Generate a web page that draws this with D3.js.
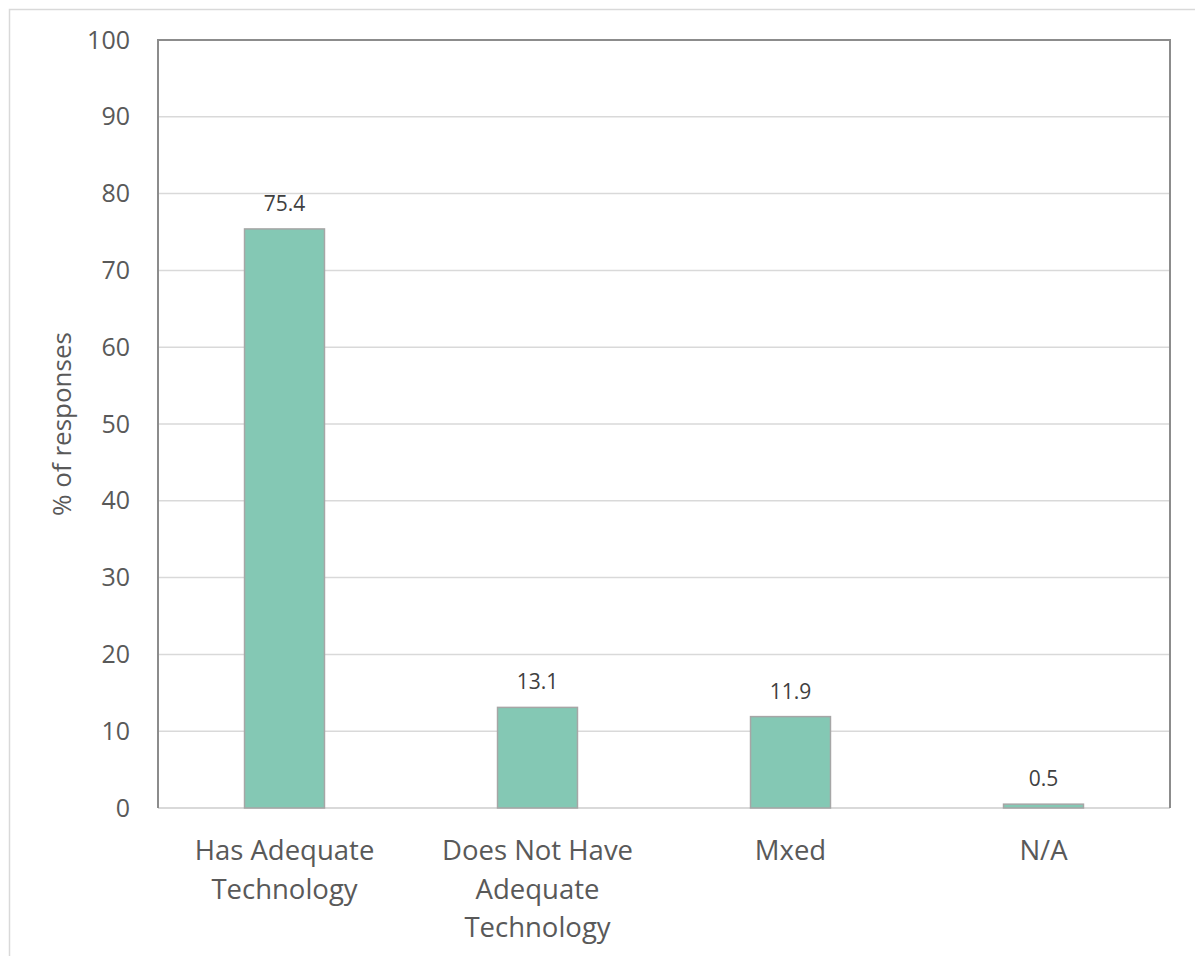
<!DOCTYPE html>
<html>
<head>
<meta charset="utf-8">
<script src="https://cdn.jsdelivr.net/npm/d3@7"></script>
<style>
  html, body { margin: 0; padding: 0; background: #fff; }
  svg { display: block; }
  text { font-family: "Open Sans", "Noto Sans", sans-serif; }
</style>
</head>
<body>
<svg id="chart" width="1195" height="956"></svg>
<script>
// Survey responses: access to adequate technology
const categories = [
  ["Has Adequate", "Technology"],
  ["Does Not Have", "Adequate", "Technology"],
  ["Mxed"],
  ["N/A"]
];
const values = [75.4, 13.1, 11.9, 0.5];
const yTicks = [0, 10, 20, 30, 40, 50, 60, 70, 80, 90, 100];
const yTitle = "% of responses";

const svg = d3.select("#chart");
const W = 1195, H = 956;
const plot = { left: 158, right: 1170, top: 40, bottom: 808 };

// chart frame
svg.append("rect")
  .attr("x", 9.5).attr("y", 9.5)
  .attr("width", W).attr("height", H)
  .attr("fill", "#fff").attr("stroke", "#d9d9d9").attr("stroke-width", 1.5);

const keys = categories.map((c, i) => i);
const x = d3.scaleBand().domain(keys)
  .range([plot.left, plot.right])
  .paddingInner(0.684).paddingOuter(0.342);
const y = d3.scaleLinear().domain([0, 100]).range([plot.bottom, plot.top]);

// gridlines
svg.append("g")
  .selectAll("line")
  .data(yTicks.filter(t => t > 0 && t < 100))
  .join("line")
  .attr("x1", plot.left).attr("x2", plot.right)
  .attr("y1", d => y(d)).attr("y2", d => y(d))
  .attr("stroke", "#d9d9d9").attr("stroke-width", 1.5);

// bottom axis line
svg.append("line")
  .attr("x1", plot.left).attr("x2", plot.right)
  .attr("y1", y(0)).attr("y2", y(0))
  .attr("stroke", "#d9d9d9").attr("stroke-width", 2);

// plot border: top, left, right
svg.append("path")
  .attr("d", `M${plot.left},${plot.bottom} V${plot.top} H${plot.right} V${plot.bottom}`)
  .attr("fill", "none").attr("stroke", "#8c8c8c").attr("stroke-width", 2);

// y axis tick labels
const yAxis = d3.axisLeft(y).tickValues(yTicks).tickSize(0).tickPadding(28);
const gy = svg.append("g").attr("transform", `translate(${plot.left},0)`).call(yAxis);
gy.select(".domain").remove();
gy.selectAll("text")
  .attr("font-size", 25)
  .attr("fill", "#595959")
  .style("font-family", "'Open Sans', sans-serif");

// bars
svg.append("g")
  .selectAll("rect")
  .data(values)
  .join("rect")
  .attr("x", (d, i) => x(i))
  .attr("y", d => y(d))
  .attr("width", x.bandwidth())
  .attr("height", d => y(0) - y(d))
  .attr("fill", "#84c8b4")
  .attr("stroke", "#a6a6a6").attr("stroke-width", 1.5);

// value labels
svg.append("g")
  .selectAll("text")
  .data(values)
  .join("text")
  .attr("x", (d, i) => x(i) + x.bandwidth() / 2)
  .attr("y", d => y(d) - 18)
  .attr("text-anchor", "middle")
  .attr("font-size", 21)
  .attr("fill", "#404040")
  .text(d => d.toFixed(1));

// category labels
const cat = svg.append("g")
  .selectAll("text")
  .data(categories)
  .join("text")
  .attr("text-anchor", "middle")
  .attr("font-size", 27.5)
  .attr("fill", "#595959");
cat.each(function(lines, i) {
  d3.select(this).selectAll("tspan")
    .data(lines)
    .join("tspan")
    .attr("x", x(i) + x.bandwidth() / 2)
    .attr("y", (l, j) => 860 + j * 38.5)
    .text(l => l);
});

// y axis title
svg.append("text")
  .attr("transform", `translate(71,${(plot.top + plot.bottom) / 2}) rotate(-90)`)
  .attr("text-anchor", "middle")
  .attr("font-size", 26)
  .attr("fill", "#595959")
  .text(yTitle);
</script>
</body>
</html>
